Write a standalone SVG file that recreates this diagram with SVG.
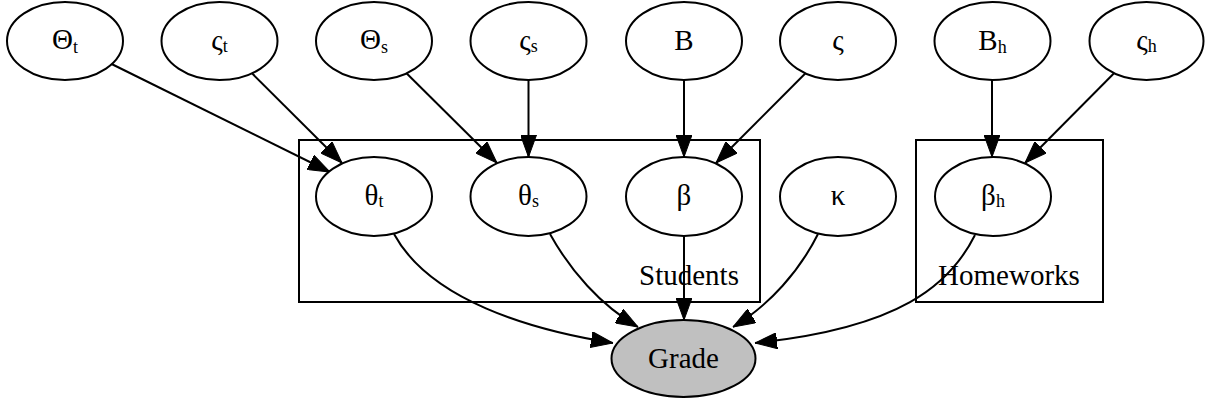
<svg xmlns="http://www.w3.org/2000/svg" width="1211" height="406" viewBox="0 0 1211 406">
<style>
.n ellipse{fill:#fff;stroke:#000;stroke-width:2}
text{font-family:"Liberation Serif","Times New Roman",serif;font-size:29px;fill:#000;text-anchor:middle}
.sub{font-size:18px}
.e path{fill:none;stroke:#000;stroke-width:2;marker-end:url(#arr)}
.cl rect{fill:none;stroke:#000;stroke-width:2}
</style>
<defs>
<marker id="arr" viewBox="0 0 22 16" refX="22" refY="8" markerWidth="22" markerHeight="16" markerUnits="userSpaceOnUse" orient="auto">
<path d="M0,0 L22,8 L0,16 z" fill="#000" stroke="#000" stroke-width="1"/>
</marker>
</defs>
<rect width="1211" height="406" fill="#fff"/>
<g class="cl" id="cluster_students">
<rect x="299" y="140" width="461" height="162"/>
<text x="689" y="285">Students</text>
</g>
<g class="cl" id="cluster_homeworks">
<rect x="916" y="140" width="187" height="162"/>
<text x="1009" y="285">Homeworks</text>
</g>
<g class="e" id="edges">
<path d="M111.6,64 L330,172"/>
<path d="M252,73.3 L342,163"/>
<path d="M406.5,73.3 L497,163"/>
<path d="M528.5,80 L528.5,157"/>
<path d="M684,80 L684,157"/>
<path d="M805.5,73.3 L716,163"/>
<path d="M992,80 L992,157"/>
<path d="M1114,73.3 L1025,163"/>
<path d="M394,234 C430,300 530,330 613,343"/>
<path d="M550,234 C570,270 600,305 638,327"/>
<path d="M684,236 L684,320"/>
<path d="M818,234 C800,270 770,305 733,327"/>
<path d="M975,235 C950,285 900,328 755,343"/>
</g>
<g class="n" id="Theta_t"><ellipse cx="65" cy="41" rx="58" ry="39"/><text x="65" y="49">Θ<tspan class="sub" dy="4">t</tspan></text></g>
<g class="n" id="sigma_t"><ellipse cx="219.5" cy="41" rx="58" ry="39"/><text x="219.5" y="50">ς<tspan class="sub" dy="2">t</tspan></text></g>
<g class="n" id="Theta_s"><ellipse cx="374" cy="41" rx="58" ry="39"/><text x="374" y="49">Θ<tspan class="sub" dy="4">s</tspan></text></g>
<g class="n" id="sigma_s"><ellipse cx="528.5" cy="41" rx="58" ry="39"/><text x="528.5" y="50">ς<tspan class="sub" dy="2">s</tspan></text></g>
<g class="n" id="B"><ellipse cx="684" cy="41" rx="58" ry="39"/><text x="684" y="50">B</text></g>
<g class="n" id="sigma"><ellipse cx="838" cy="41" rx="58" ry="39"/><text x="838" y="50">ς</text></g>
<g class="n" id="B_h"><ellipse cx="992.5" cy="41" rx="58" ry="39"/><text x="992.5" y="50">B<tspan class="sub" dy="3">h</tspan></text></g>
<g class="n" id="sigma_h"><ellipse cx="1146.5" cy="41" rx="57" ry="39"/><text x="1146.5" y="50">ς<tspan class="sub" dy="2">h</tspan></text></g>
<g class="n" id="theta_t"><ellipse cx="374" cy="196.5" rx="58" ry="39.5"/><text x="374" y="205">θ<tspan class="sub" dy="2">t</tspan></text></g>
<g class="n" id="theta_s"><ellipse cx="528.5" cy="196.5" rx="58" ry="39.5"/><text x="528.5" y="205">θ<tspan class="sub" dy="2">s</tspan></text></g>
<g class="n" id="beta"><ellipse cx="684" cy="196.5" rx="58" ry="39.5"/><text x="684" y="205">β</text></g>
<g class="n" id="kappa"><ellipse cx="838" cy="196.5" rx="58" ry="39.5"/><text x="838" y="205">κ</text></g>
<g class="n" id="beta_h"><ellipse cx="993" cy="196.5" rx="58" ry="39.5"/><text x="993" y="205">β<tspan class="sub" dy="2">h</tspan></text></g>
<g class="n" id="Grade"><ellipse cx="683.5" cy="358.5" rx="72" ry="38.5" style="fill:#c0c0c0"/><text x="683.5" y="368">Grade</text></g>
</svg>
